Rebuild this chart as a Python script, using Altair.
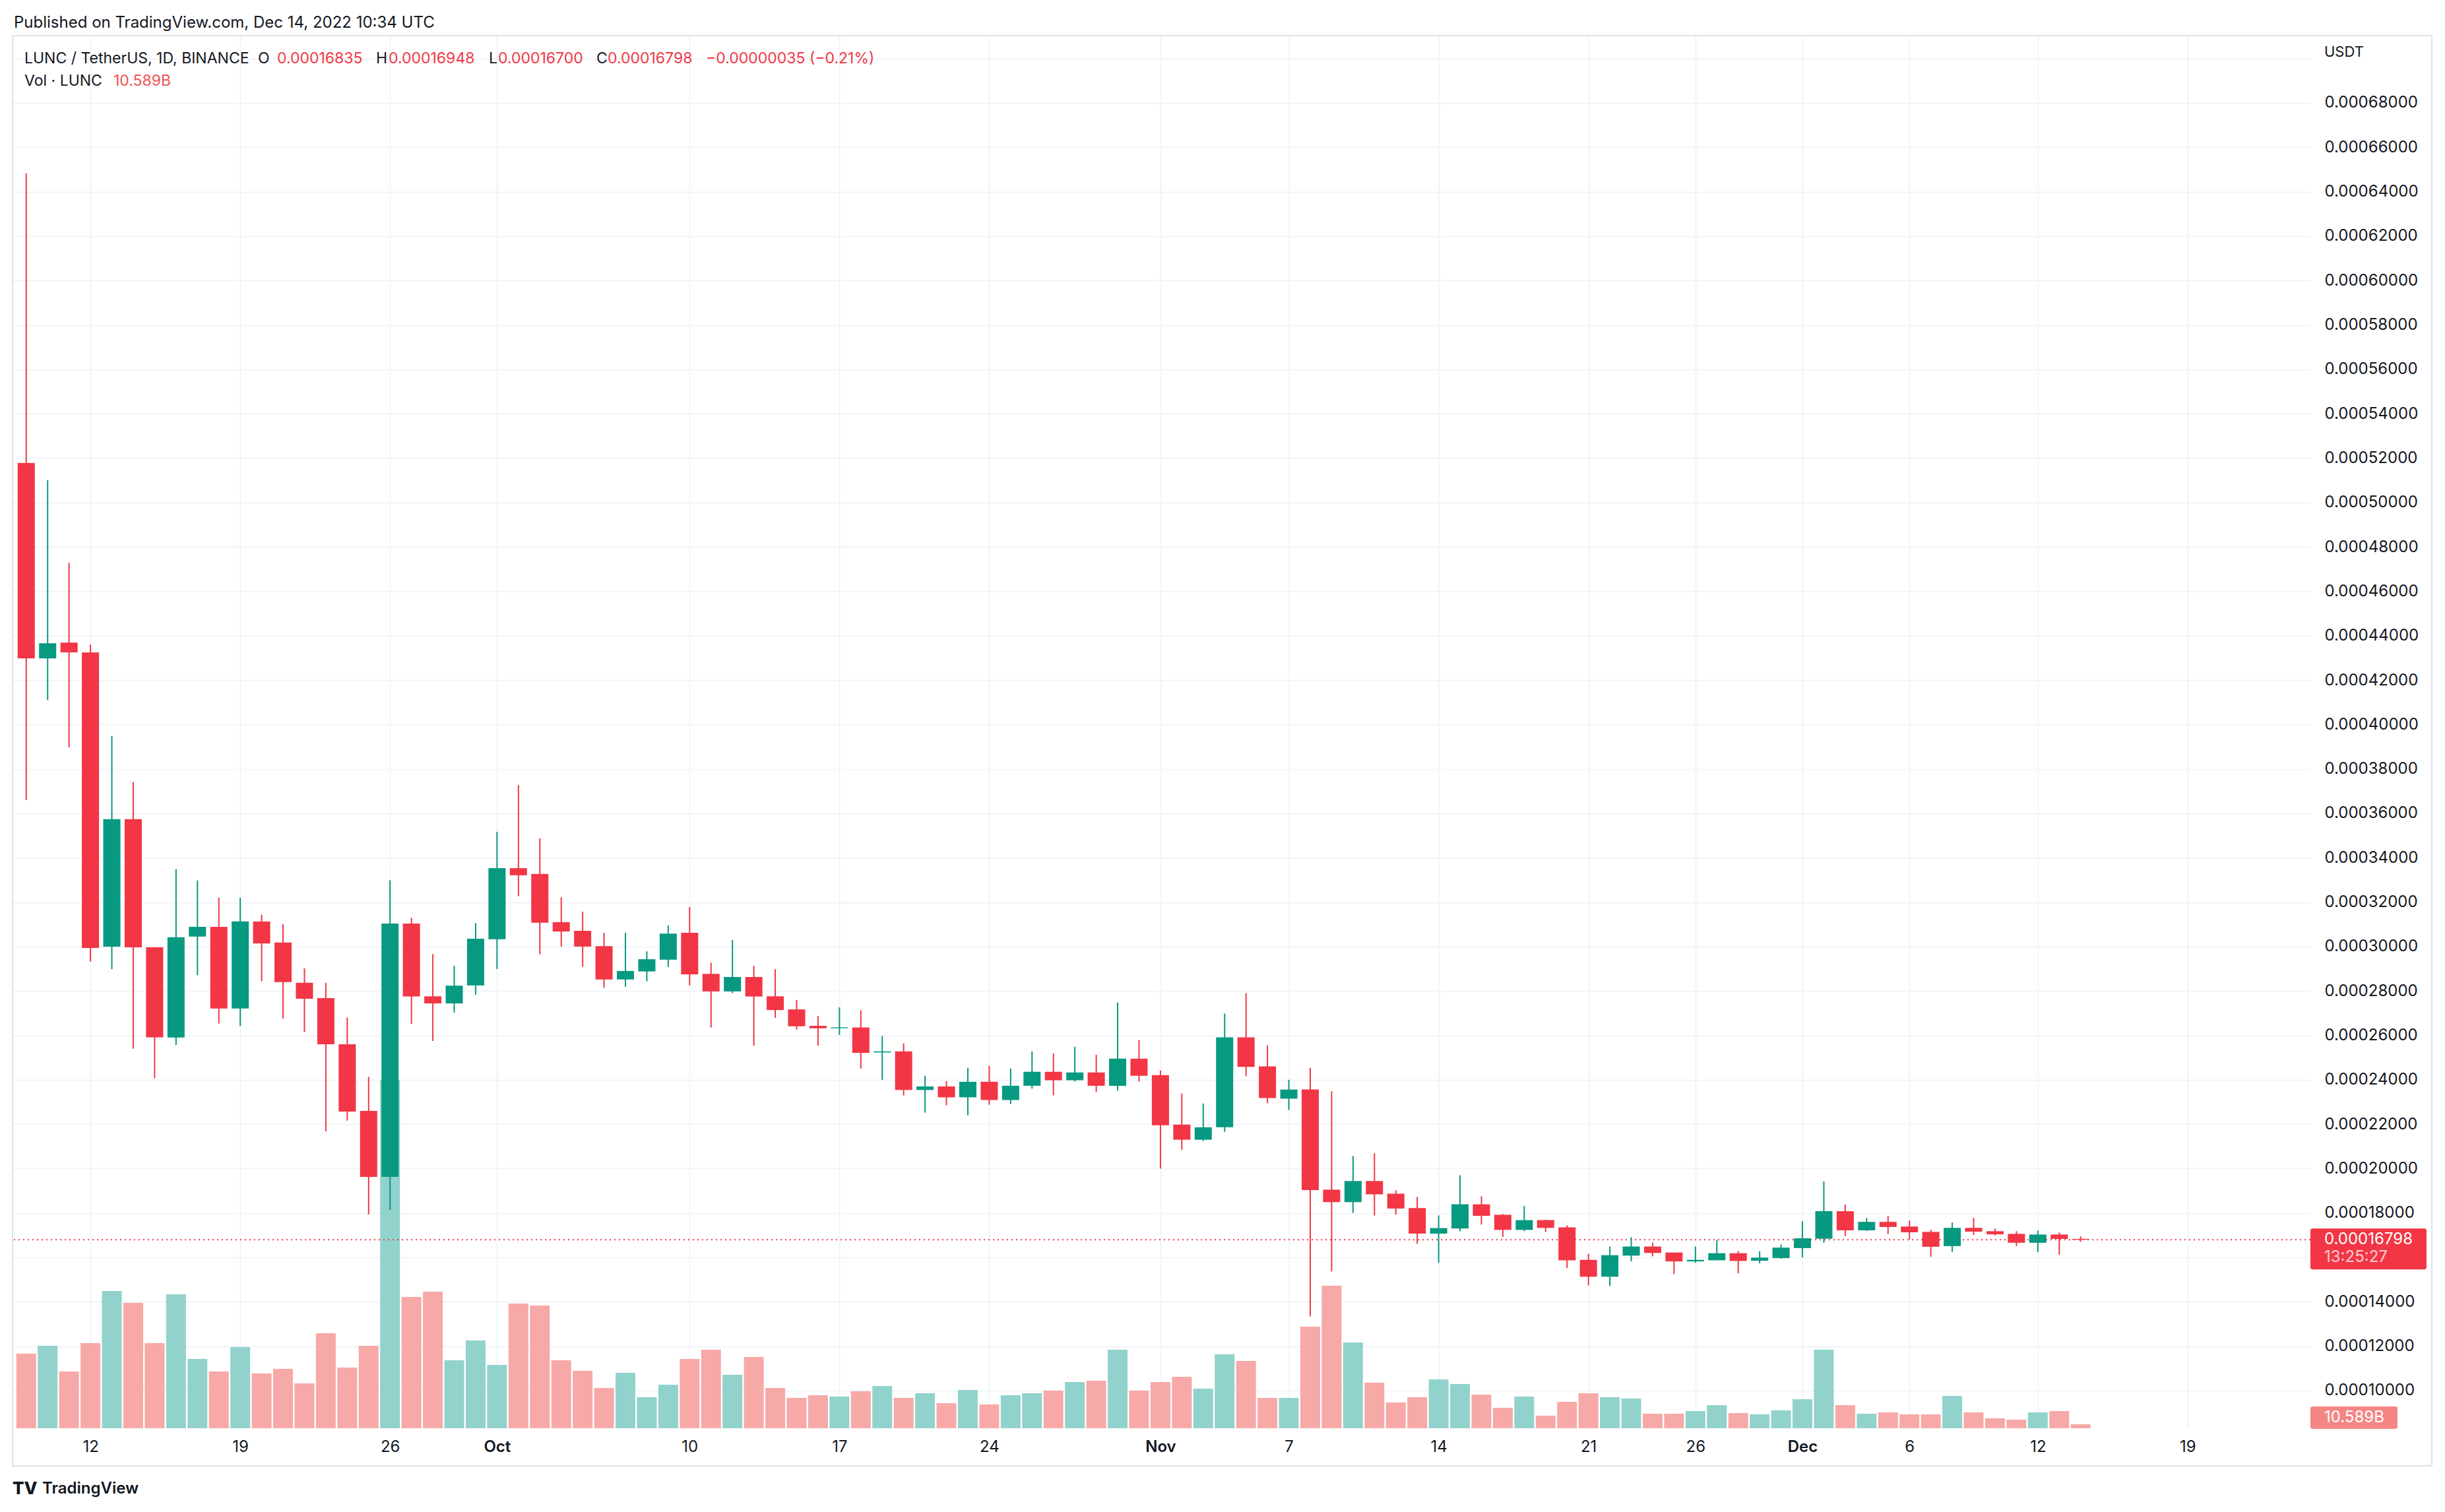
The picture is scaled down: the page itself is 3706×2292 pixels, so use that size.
import altair as alt
import pandas as pd

FONT = "Inter"
TXT = "#131722"
RED = "#F23645"
GREEN = "#089981"

start = "2022-09-09"
opens = [0.0005178, 0.0004298, 0.0004369, 0.0004325, 0.0003000, 0.0003574, 0.0002997, 0.0002590, 0.0003045, 0.0003089,
         0.0002721, 0.0003113, 0.0003018, 0.0002837, 0.0002768, 0.0002560, 0.0002260, 0.0001963, 0.0003104, 0.0002776,
         0.0002744, 0.0002825, 0.0003033, 0.0003353, 0.0003327, 0.0003110, 0.0003071, 0.0003002, 0.0002852, 0.0002888,
         0.0002941, 0.0003062, 0.0002877, 0.0002798, 0.0002863, 0.0002776, 0.0002717, 0.0002643, 0.0002632, 0.0002636,
         0.0002523, 0.0002528, 0.0002354, 0.0002370, 0.0002321, 0.0002391, 0.0002309, 0.0002373, 0.0002436, 0.0002398,
         0.0002433, 0.0002373, 0.0002495, 0.0002421, 0.0002198, 0.0002130, 0.0002186, 0.0002591, 0.0002460, 0.0002315,
         0.0002356, 0.0001905, 0.0001849, 0.0001944, 0.0001887, 0.0001822, 0.0001707, 0.0001730, 0.0001839, 0.0001792,
         0.0001724, 0.0001768, 0.0001735, 0.0001589, 0.0001513, 0.0001608, 0.0001649, 0.0001622, 0.0001582, 0.0001587,
         0.0001619, 0.0001585, 0.0001597, 0.0001642, 0.0001684, 0.0001808, 0.0001722, 0.0001760, 0.0001739, 0.0001715,
         0.0001651, 0.0001733, 0.0001718, 0.0001706, 0.0001666, 0.0001703, 0.00016835]
highs = [0.0006482, 0.0005100, 0.0004728, 0.0004360, 0.0003949, 0.0003741, 0.0002997, 0.0003349, 0.0003298, 0.0003220,
         0.0003220, 0.0003144, 0.0003100, 0.0002902, 0.0002837, 0.0002680, 0.0002413, 0.0003298, 0.0003130, 0.0002966,
         0.0002913, 0.0003106, 0.0003517, 0.0003727, 0.0003487, 0.0003222, 0.0003157, 0.0003062, 0.0003062, 0.0002979,
         0.0003095, 0.0003178, 0.0002927, 0.0003029, 0.0002913, 0.0002898, 0.0002759, 0.0002687, 0.0002726, 0.0002713,
         0.0002597, 0.0002564, 0.0002418, 0.0002394, 0.0002454, 0.0002463, 0.0002451, 0.0002528, 0.0002519, 0.0002549,
         0.0002513, 0.0002748, 0.0002579, 0.0002442, 0.0002338, 0.0002293, 0.0002698, 0.0002790, 0.0002555, 0.0002400,
         0.0002454, 0.0002348, 0.0002057, 0.0002069, 0.0001902, 0.0001872, 0.0001789, 0.0001970, 0.0001875, 0.0001795,
         0.0001831, 0.0001770, 0.0001744, 0.0001616, 0.0001649, 0.0001691, 0.0001667, 0.0001622, 0.0001649, 0.0001679,
         0.0001628, 0.0001628, 0.0001659, 0.0001763, 0.0001942, 0.0001838, 0.0001778, 0.0001787, 0.0001766, 0.0001724,
         0.0001757, 0.0001778, 0.0001730, 0.0001718, 0.0001721, 0.0001712, 0.00016948]
lows = [0.0003660, 0.0004110, 0.0003898, 0.0002932, 0.0002898, 0.0002540, 0.0002407, 0.0002557, 0.0002871, 0.0002653,
        0.0002642, 0.0002844, 0.0002676, 0.0002615, 0.0002168, 0.0002216, 0.0001793, 0.0001813, 0.0002652, 0.0002575,
        0.0002703, 0.0002783, 0.0002899, 0.0003227, 0.0002965, 0.0003000, 0.0002909, 0.0002814, 0.0002819, 0.0002843,
        0.0002908, 0.0002825, 0.0002635, 0.0002790, 0.0002554, 0.0002679, 0.0002626, 0.0002554, 0.0002602, 0.0002451,
        0.0002400, 0.0002329, 0.0002252, 0.0002285, 0.0002240, 0.0002288, 0.0002291, 0.0002360, 0.0002330, 0.0002392,
        0.0002345, 0.0002351, 0.0002392, 0.0002000, 0.0002085, 0.0002124, 0.0002166, 0.0002416, 0.0002294, 0.0002264,
        0.0001334, 0.0001537, 0.0001800, 0.0001789, 0.0001793, 0.0001661, 0.0001576, 0.0001718, 0.0001748, 0.0001692,
        0.0001718, 0.0001715, 0.0001552, 0.0001474, 0.0001471, 0.0001582, 0.0001605, 0.0001525, 0.0001576, 0.0001587,
        0.0001528, 0.0001573, 0.0001594, 0.0001600, 0.0001666, 0.0001696, 0.0001719, 0.0001705, 0.0001681, 0.0001603,
        0.0001624, 0.0001701, 0.0001699, 0.0001651, 0.0001624, 0.0001612, 0.00016700]
closes = [0.0004298, 0.0004366, 0.0004325, 0.0002994, 0.0003574, 0.0002997, 0.0002591, 0.0003042, 0.0003089, 0.0002721,
          0.0003113, 0.0003014, 0.0002840, 0.0002765, 0.0002560, 0.0002257, 0.0001963, 0.0003104, 0.0002775, 0.0002744,
          0.0002824, 0.0003035, 0.0003353, 0.0003321, 0.0003107, 0.0003068, 0.0003000, 0.0002852, 0.0002890, 0.0002943,
          0.0003058, 0.0002875, 0.0002798, 0.0002863, 0.0002775, 0.0002714, 0.0002641, 0.0002632, 0.0002636, 0.0002521,
          0.0002528, 0.0002354, 0.0002370, 0.0002321, 0.0002391, 0.0002309, 0.0002373, 0.0002436, 0.0002398, 0.0002433,
          0.0002373, 0.0002495, 0.0002418, 0.0002195, 0.0002130, 0.0002186, 0.0002591, 0.0002458, 0.0002318, 0.0002356,
          0.0001903, 0.0001849, 0.0001944, 0.0001884, 0.0001820, 0.0001707, 0.0001732, 0.0001839, 0.0001787, 0.0001724,
          0.0001768, 0.0001733, 0.0001587, 0.0001513, 0.0001610, 0.0001649, 0.0001620, 0.0001582, 0.0001589, 0.0001619,
          0.0001584, 0.0001599, 0.0001644, 0.0001686, 0.0001808, 0.0001722, 0.0001760, 0.0001737, 0.0001713, 0.0001648,
          0.0001733, 0.0001716, 0.0001704, 0.0001666, 0.0001703, 0.00016833, 0.00016798]
volumes_b = [199.3, 220.5, 151.7, 227.6, 366.9, 335.2, 227.6, 358.1, 185.2, 151.7,
             217.0, 146.4, 158.8, 120.0, 254.0, 162.3, 220.5, 931.4, 351.0, 365.1,
             181.7, 234.6, 169.3, 333.4, 328.1, 181.7, 153.5, 107.6, 148.2, 82.9,
             116.4, 185.2, 209.9, 142.9, 190.5, 107.6, 81.1, 88.2, 84.7, 98.8,
             112.9, 81.1, 93.5, 67.0, 102.3, 63.5, 88.2, 93.5, 100.5, 123.5,
             127.0, 209.9, 100.5, 123.5, 137.6, 105.8, 197.6, 179.9, 81.1, 81.1,
             271.7, 381.0, 229.3, 121.7, 68.8, 82.9, 130.5, 118.2, 90.0, 54.7,
             84.7, 33.5, 70.6, 93.5, 82.9, 79.4, 38.8, 38.8, 45.9, 61.7,
             40.6, 37.0, 47.6, 77.6, 209.9, 61.7, 38.8, 42.3, 37.0, 37.0,
             86.4, 42.3, 26.5, 22.9, 42.3, 45.9, 10.589]

tick_dates = ["2022-09-12", "2022-09-19", "2022-09-26", "2022-10-01", "2022-10-10", "2022-10-17",
              "2022-10-24", "2022-11-01", "2022-11-07", "2022-11-14", "2022-11-21", "2022-11-26",
              "2022-12-01", "2022-12-06", "2022-12-12", "2022-12-19"]
price_ticks = [round(0.0001 + 0.00002 * i, 8) for i in range(31)]

dates = pd.date_range(start, periods=len(opens), freq="D").strftime("%Y-%m-%d")
df = pd.DataFrame({"date": dates, "open": opens, "high": highs, "low": lows,
                   "close": closes, "volume": volumes_b})
last = df.iloc[[-1]].reset_index(drop=True)

W, H = 3483, 2111

def dt(s, h=0, m=0):
    y, mo, d = (int(v) for v in s.split("-"))
    return alt.DateTime(year=y, month=mo, date=d, hours=h, minutes=m, utc=True)

xscale = alt.Scale(type="utc", domain=[dt("2022-09-08", 12, 20), dt("2022-12-24", 14, 0)])
xaxis = alt.Axis(values=[dt(s) for s in tick_dates],
                 labelExpr="utcdate(datum.value) == 1 ? utcFormat(datum.value, '%b') : utcFormat(datum.value, '%-d')",
                 labelFontWeight={"condition": {"test": "utcdate(datum.value) == 1", "value": 600}, "value": 400},
                 title=None, ticks=False, tickSize=0, domain=False, grid=True,
                 gridColor="#F0F3FA", gridWidth=2, labelFont=FONT, labelFontSize=24,
                 labelColor=TXT, labelPadding=28, labelBaseline="middle", labelOverlap=False,
                 labelFlush=False)
X = alt.X("date:T", scale=xscale, axis=xaxis)

yscale = alt.Scale(domain=[0.00008306, 0.0007103], zero=False, nice=False)
yaxis = alt.Axis(orient="right", values=price_ticks,
                 labelExpr="(datum.value > 0.000695 || abs(datum.value - 0.00016) < 1e-9) ? '' : format(datum.value, '.8f')",
                 title=None, ticks=False, tickSize=0, domain=False, grid=True,
                 gridColor="#F0F3FA", gridWidth=2, labelFont=FONT, labelFontSize=24,
                 labelColor=TXT, labelAlign="left", labelPadding=21, labelBaseline="middle",
                 labelOverlap=False, labelFlush=False)

def Y(field):
    return alt.Y(field, scale=yscale, axis=yaxis)

up_color = alt.condition("datum.close >= datum.open", alt.value(GREEN), alt.value(RED))
vol_color = alt.condition("datum.close >= datum.open", alt.value("#92D2CC"), alt.value("#F7A9A7"))

base = alt.Chart(df)

volume = base.mark_bar(size=30).encode(
    x=X,
    y=alt.Y("volume:Q", scale=alt.Scale(domain=[0, 3724], nice=False, zero=True), axis=None),
    color=vol_color,
)

price_line = alt.Chart(last).mark_rule(color=RED, strokeWidth=2, strokeDash=[2, 5]).encode(
    y=Y("close:Q"))

wicks = base.mark_rule(strokeWidth=2).encode(x=X, y=Y("low:Q"), y2="high:Q", color=up_color)
bodies = base.mark_bar(size=26).encode(x=X, y=Y("open:Q"), y2="close:Q", color=up_color)

price_tag = alt.Chart(last).mark_tick(orient="horizontal", thickness=62, size=176, color=RED,
                                      yOffset=14, cornerRadius=3, opacity=1).encode(
    x=alt.value(W + 88), y=Y("close:Q"))
price_tag_txt = alt.Chart(last).mark_text(align="left", baseline="middle", font=FONT, fontSize=24,
                                          color="white").encode(
    x=alt.value(W + 21), y=Y("close:Q"), text=alt.Text("close:Q", format=".8f"))
timer_txt = alt.Chart(last).mark_text(align="left", baseline="middle", font=FONT, fontSize=24,
                                      color="white", opacity=0.75, dy=27).encode(
    x=alt.value(W + 21), y=Y("close:Q"), text=alt.value("13:25:27"))

vol_tag = alt.Chart(last).mark_tick(orient="horizontal", thickness=34, size=132, color="#EF5350",
                                    cornerRadius=3).encode(x=alt.value(W + 66), y=alt.value(H - 16))
vol_tag_txt = alt.Chart(last).transform_calculate(
    t="format(datum.volume, '.3f') + 'B'"
).mark_text(align="left", baseline="middle", font=FONT, fontSize=24, color="white").encode(
    x=alt.value(W + 21), y=alt.value(H - 16), text="t:N")

def label(text, x, y, color=TXT, size=24, weight=400):
    return alt.Chart(pd.DataFrame({"t": [text]})).mark_text(
        align="left", baseline="middle", font=FONT, fontSize=size, color=color, fontWeight=weight
    ).encode(x=alt.value(x), y=alt.value(y), text="t:N")

chg = closes[-1] - closes[-2]
pct = chg / closes[-2] * 100
chg_txt = f"{chg:.8f} ({pct:.2f}%)".replace("-", "\u2212")

LS = 23
texts = [
    label("Published on TradingView.com, Dec 14, 2022 10:34 UTC", 2, -19),
    label("LUNC / TetherUS, 1D, BINANCE", 18, 35, TXT, LS),
    label("O", 372, 35, TXT, LS), label(f"{opens[-1]:.8f}", 401, 35, RED, LS),
    label("H", 551, 35, TXT, LS), label(f"{highs[-1]:.8f}", 570, 35, RED, LS),
    label("L", 722, 35, TXT, LS), label(f"{lows[-1]:.8f}", 736, 35, RED, LS),
    label("C", 885, 35, TXT, LS), label(f"{closes[-1]:.8f}", 902, 35, RED, LS),
    label(chg_txt, 1051, 35, RED, LS),
    label("Vol \u00b7 LUNC", 18, 69, TXT, LS), label(f"{volumes_b[-1]:.3f}B", 153, 69, "#EF5350", LS),
    label("USDT", W + 21, 25, TXT, 22),
    label("TV", 0, 2203, TXT, 26, 800),
    label("TradingView", 45, 2203, TXT, 24, 600),
]

frame = alt.Chart(pd.DataFrame({"a": [0]})).mark_rect(
    fill="transparent", stroke="#E0E3EB", strokeWidth=2).encode(
    x=alt.value(0), x2=alt.value(W + 184), y=alt.value(0), y2=alt.value(H + 57))

price_layer = alt.layer(price_line, wicks, bodies, price_tag, price_tag_txt, timer_txt,
                        vol_tag, vol_tag_txt, frame, *texts)

chart = alt.layer(volume, price_layer).resolve_scale(y="independent").properties(
    width=W, height=H,
    autosize=alt.AutoSizeParams(type="none"),
    padding={"left": 11, "top": 46, "right": 190, "bottom": 115},
    background="white",
).configure_view(stroke=None)

chart.save("out.html", embed_options={"renderer": "svg", "actions": False})
